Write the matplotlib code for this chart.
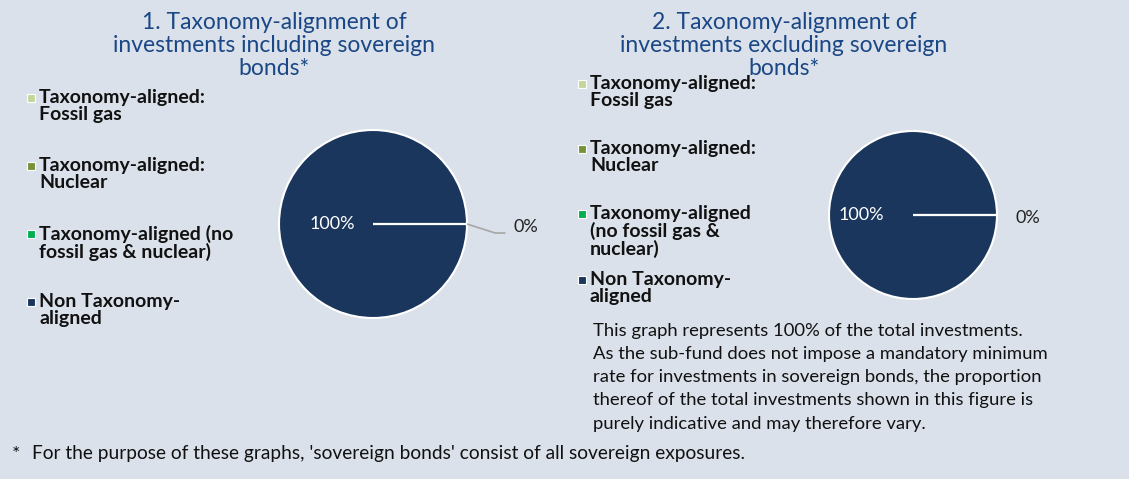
import matplotlib.pyplot as plt
from matplotlib.lines import Line2D
import numpy as np

W, H = 1129, 479

# data
categories = [
    "Taxonomy-aligned: Fossil gas",
    "Taxonomy-aligned: Nuclear",
    "Taxonomy-aligned (no fossil gas & nuclear)",
    "Non Taxonomy-aligned",
]
legend_labels_1 = [
    "Taxonomy-aligned:\nFossil gas",
    "Taxonomy-aligned:\nNuclear",
    "Taxonomy-aligned (no\nfossil gas & nuclear)",
    "Non Taxonomy-\naligned",
]
legend_labels_2 = [
    "Taxonomy-aligned:\nFossil gas",
    "Taxonomy-aligned:\nNuclear",
    "Taxonomy-aligned\n(no fossil gas &\nnuclear)",
    "Non Taxonomy-\naligned",
]
share_incl = [0, 0, 0, 100]
share_excl = [0, 0, 0, 100]
colors = ["#c4d79b", "#76933c", "#00b050", "#1b365d"]

title_1 = "1. Taxonomy-alignment of\ninvestments including sovereign\nbonds*"
title_2 = "2. Taxonomy-alignment of\ninvestments excluding sovereign\nbonds*"
note_2 = ("This graph represents 100% of the total investments.\n"
          "As the sub-fund does not impose a mandatory minimum\n"
          "rate for investments in sovereign bonds, the proportion\n"
          "thereof of the total investments shown in this figure is\n"
          "purely indicative and may therefore vary.")
footnote = "For the purpose of these graphs, 'sovereign bonds' consist of all sovereign exposures."

BG = "#dbe1ea"
TITLE_C = "#1a4785"
FONT = "Lato"

plt.rcParams["font.family"] = [FONT, "DejaVu Sans"]


def fx(px):
    return px / W


def fy(py):
    return 1 - py / H


def draw_pie(ax, values, big_dist, zero_dist, leader):
    wedges, _ = ax.pie(values, colors=colors, startangle=0, counterclock=True,
                       wedgeprops=dict(edgecolor="white", linewidth=1.5))
    ax.set_xlim(-1, 1)
    ax.set_ylim(-1, 1)
    total = sum(values)
    done_zero = False
    for w, v in zip(wedges, values):
        ang = np.deg2rad((w.theta1 + w.theta2) / 2)
        pct = "{:.0f}%".format(100 * v / total)
        if v > 0:
            ax.text(big_dist * np.cos(ang), big_dist * np.sin(ang), pct,
                    color="white", fontsize=13, ha="center", va="center")
        else:
            # empty slices show as a white radius on top of the full slice
            w.set_zorder(3)
            if done_zero:
                continue
            done_zero = True
            x0, y0 = np.cos(ang), np.sin(ang)
            if leader:
                ax.plot([x0, 1.30, 1.40], [y0, y0 - 0.096, y0 - 0.096],
                        color="#a6a6a6", lw=1.2, clip_on=False)
            ax.text(zero_dist * np.cos(ang), zero_dist * np.sin(ang) - 0.03, pct,
                    color="#222222", fontsize=13, ha="left", va="center")


def draw_legend(fig, labels, x, y_tops):
    for lab, c, yt in zip(labels, colors, y_tops):
        fig.add_artist(Line2D([fx(x)], [fy(yt + 9)], marker="s", ms=5.5,
                              color=c, markeredgecolor="white", mew=0.8,
                              transform=fig.transFigure))
        fig.text(fx(x + 8), fy(yt), lab, fontsize=14, fontweight="bold",
                 color="#111111", va="top", ha="left", linespacing=0.98)


fig = plt.figure(figsize=(W / 100, H / 100), dpi=100, facecolor=BG)

# chart 1
ax1 = fig.add_axes([fx(373 - 94), fy(224 + 94), fx(188), 188 / H])
draw_pie(ax1, share_incl, 0.43, 1.49, True)
fig.text(fx(274), fy(12), title_1, fontsize=16.5, color=TITLE_C, ha="center",
         va="top", linespacing=1.12)
draw_legend(fig, legend_labels_1, 31, [89, 157, 225, 293])

# chart 2
ax2 = fig.add_axes([fx(913 - 84), fy(215 + 84), fx(168), 168 / H])
draw_pie(ax2, share_excl, 0.61, 1.22, False)
fig.text(fx(784), fy(12), title_2, fontsize=16.5, color=TITLE_C, ha="center",
         va="top", linespacing=1.12)
draw_legend(fig, legend_labels_2, 582, [75, 140, 205, 271])

fig.text(fx(593), fy(323), note_2, fontsize=13.3, color="#111111", ha="left",
         va="top", linespacing=1.55)

fig.text(fx(12), fy(454), "*", fontsize=14, color="#111111", ha="left", va="center")
fig.text(fx(32), fy(454), footnote, fontsize=13.8, color="#111111", ha="left", va="center")

fig.savefig("out.png", dpi=100, facecolor=BG)
